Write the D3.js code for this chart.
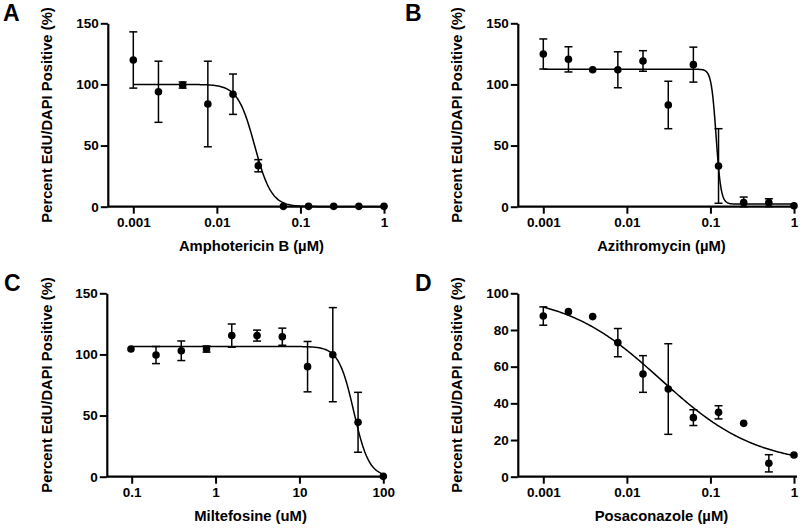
<!DOCTYPE html>
<html>
<head>
<meta charset="utf-8">
<script src="https://cdn.jsdelivr.net/npm/d3@7"></script>
<style>
  html, body { margin: 0; padding: 0; background: #fff; }
  svg text { font-family: "Liberation Sans", Arial, Helvetica, sans-serif; font-weight: bold; fill: #000; }
</style>
</head>
<body>
<svg id="chart" width="800" height="528"></svg>
<script>
// ---- Data ----
const dosesA = [0.001, 0.002, 0.0039, 0.0078, 0.0156, 0.0313, 0.0625, 0.125, 0.25, 0.5, 1];
const meanA  = [120, 94, 99.5, 84, 92, 33.5, 0.3, 0.3, 0.3, 0.3, 0.3];
const errA   = [23, 25, 2.5, 35, 16.5, 5, 0, 0, 0, 0, 0];
const fitA   = [100, 0, 0.0283, 4.3]; // top, bottom, IC50, hill

const dosesB = [0.001, 0.002, 0.0039, 0.0078, 0.0156, 0.0313, 0.0625, 0.125, 0.25, 0.5, 1];
const meanB  = [124.9, 120.5, 112, 112, 119.2, 83.2, 116.2, 33.3, 3.3, 3.3, 0.8];
const errB   = [12.3, 10.3, 0, 14.7, 8.4, 19.4, 14.3, 30.5, 4.6, 3.2, 0];
const fitB   = [112.4, 2.2, 0.117, 15];

const dosesC = [0.098, 0.195, 0.39, 0.78, 1.56, 3.125, 6.25, 12.5, 25, 50, 100];
const meanC  = [104.5, 99.5, 103, 104.4, 115.4, 115.4, 114.5, 90, 99.8, 44.5, 0.3];
const errC   = [0, 7, 8, 2.5, 9.5, 4.5, 7, 20.6, 38.5, 24.5, 0];
const fitC   = [106.5, 0, 44.5, 4.8];

const dosesD = [0.001, 0.002, 0.0039, 0.0078, 0.0156, 0.0313, 0.0625, 0.125, 0.25, 0.5, 1];
const meanD  = [87.6, 90, 87.3, 73.1, 56, 47.8, 32.2, 35.1, 29.1, 7.3, 11.8];
const errD   = [5, 0, 0, 7.7, 10, 24.7, 4.3, 3.6, 0, 4.7, 0];
const fitD   = [100, 6, 0.0254, 0.756];

const xTicksNano = [0.001, 0.01, 0.1, 1];
const xTicksMilt = [0.1, 1, 10, 100];
const yTicks150  = [0, 50, 100, 150];
const yTicks100  = [0, 20, 40, 60, 80, 100];

const letters = ["A", "B", "C", "D"];
const xTitles = ["Amphotericin B (\u00b5M)", "Azithromycin (\u00b5M)", "Miltefosine (uM)", "Posaconazole (\u00b5M)"];
const yTitle  = "Percent EdU/DAPI Positive (%)";

// ---- Layout ----
const panels = [
  { doses: dosesA, mean: meanA, err: errA, fit: fitA, xt: xTicksNano, yt: yTicks150, ymax: 150,
    ox: 0, oy: 0, xr: [133.3, 384], letterX: 3, yax: 107.8 },
  { doses: dosesB, mean: meanB, err: errB, fit: fitB, xt: xTicksNano, yt: yTicks150, ymax: 150,
    ox: 410, oy: 0, xr: [133.3, 384], letterX: -5, yax: 107.8 },
  { doses: dosesC, mean: meanC, err: errC, fit: fitC, xt: xTicksMilt, yt: yTicks150, ymax: 150,
    ox: 0, oy: 270, xr: [131.7, 383.3], letterX: 4, yax: 106.8 },
  { doses: dosesD, mean: meanD, err: errD, fit: fitD, xt: xTicksNano, yt: yTicks100, ymax: 100,
    ox: 410, oy: 270, xr: [133.3, 384], letterX: 5, yax: 107.8 },
];

const svg = d3.select("#chart");
const yTop = 23.3, yBot = 206.7;

function hill(p, x) {
  const [top, bottom, ic50, h] = p;
  return bottom + (top - bottom) / (1 + Math.pow(x / ic50, h));
}

panels.forEach((P, i) => {
  const g = svg.append("g").attr("transform", `translate(${P.ox},${P.oy})`);
  const x = d3.scaleLog().domain([P.xt[0], P.xt[P.xt.length - 1]]).range(P.xr);
  const y = d3.scaleLinear().domain([0, P.ymax]).range([yBot, yTop]);
  const xEnd = x(P.xt[P.xt.length - 1]) + 3;

  // x axis
  const xa = g.append("g").attr("transform", `translate(0,${yBot})`)
    .call(d3.axisBottom(x).tickValues(P.xt).tickFormat(d => String(d)).tickSize(7).tickPadding(4));
  xa.select(".domain").remove();
  xa.selectAll(".tick line").attr("stroke", "#000").attr("stroke-width", 2);
  xa.selectAll(".tick text").style("font-size", "13.5px");
  g.append("line").attr("x1", P.yax).attr("x2", xEnd).attr("y1", yBot).attr("y2", yBot)
    .attr("stroke", "#000").attr("stroke-width", 2.2);

  // y axis
  const ya = g.append("g").attr("transform", `translate(${P.yax},0)`)
    .call(d3.axisLeft(y).tickValues(P.yt).tickSize(7).tickSizeOuter(0).tickPadding(2));
  ya.select(".domain").attr("stroke", "#000").attr("stroke-width", 2.2);
  ya.selectAll(".tick line").attr("stroke", "#000").attr("stroke-width", 2);
  ya.selectAll(".tick text").style("font-size", "13.5px");

  // fitted curve
  const lo = Math.log10(P.doses[0]), hi = Math.log10(P.doses[P.doses.length - 1]);
  const xs = d3.range(0, 301).map(k => Math.pow(10, lo + (hi - lo) * k / 300));
  g.append("path").datum(xs)
    .attr("fill", "none").attr("stroke", "#000").attr("stroke-width", 1.5)
    .attr("d", d3.line().x(d => x(d)).y(d => y(hill(P.fit, d))));

  // error bars
  const cap = 4;
  P.doses.forEach((d, k) => {
    const e = P.err[k];
    if (e <= 0) return;
    const cx = x(d), y1 = y(P.mean[k] + e), y2 = y(Math.max(0, P.mean[k] - e));
    g.append("line").attr("x1", cx).attr("x2", cx).attr("y1", y1).attr("y2", y2)
      .attr("stroke", "#000").attr("stroke-width", 1.5);
    [y1, y2].forEach(yy => g.append("line").attr("x1", cx - cap).attr("x2", cx + cap)
      .attr("y1", yy).attr("y2", yy).attr("stroke", "#000").attr("stroke-width", 1.5));
  });

  // points
  g.selectAll("circle.pt").data(P.doses).enter().append("circle")
    .attr("class", "pt")
    .attr("cx", d => x(d)).attr("cy", (d, k) => y(P.mean[k])).attr("r", 3.8).attr("fill", "#000");

  // titles
  g.append("text").attr("x", (P.yax + xEnd) / 2 + 4).attr("y", 251)
    .attr("text-anchor", "middle").style("font-size", "14.8px").text(xTitles[i]);
  g.append("text").attr("transform", `translate(51.5,${(yTop + yBot) / 2}) rotate(-90)`)
    .attr("text-anchor", "middle").style("font-size", "14.8px").text(yTitle);
  g.append("text").attr("x", P.letterX).attr("y", 21).style("font-size", "23px").text(letters[i]);
});
</script>
</body>
</html>
